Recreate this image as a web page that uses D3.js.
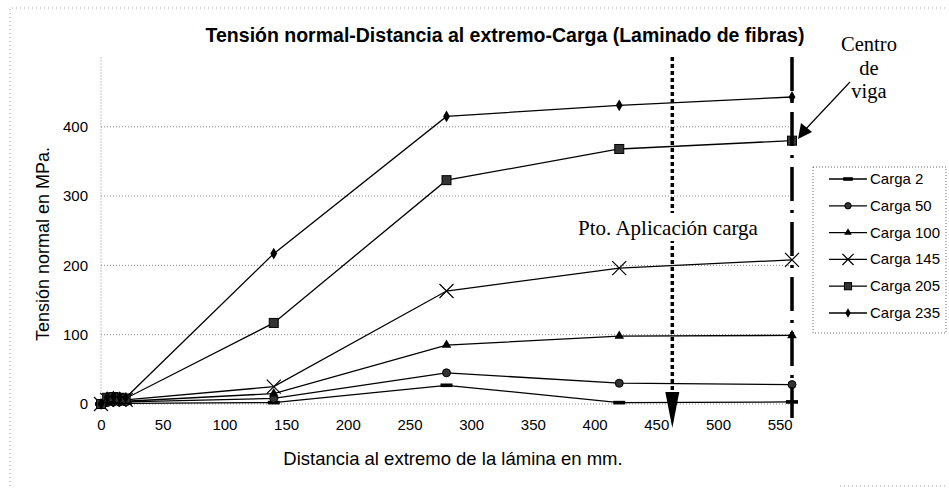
<!DOCTYPE html>
<html>
<head>
<meta charset="utf-8">
<script src="https://cdn.jsdelivr.net/npm/d3@7"></script>
<style>
  body { margin: 0; background: #fff; }
  svg { display: block; }
  text { fill: #000; }
</style>
</head>
<body>
<div id="chart"></div>
<script>
/* DATA */
const distances = [0, 5, 10, 15, 20, 140, 280, 420, 560];
const carga2   = [0, 1, 1, 1, 1, 2, 27, 2, 3];
const carga50  = [0, 2, 3, 3, 3, 8, 45, 30, 28];
const carga100 = [0, 3, 4, 4, 4, 15, 85, 98, 99];
const carga145 = [0, 6, 7, 6, 6, 25, 163, 196, 208];
const carga205 = [0, 9, 10, 9, 8, 117, 323, 368, 380];
const carga235 = [0, 10, 11, 10, 9, 217, 415, 431, 443];
const seriesNames = ["Carga 2", "Carga 50", "Carga 100", "Carga 145", "Carga 205", "Carga 235"];
const seriesMarkers = ["dash", "circle", "triangle", "cross", "square", "diamond"];
const xTicks = [0, 50, 100, 150, 200, 250, 300, 350, 400, 450, 500, 550];
const yTicks = [0, 100, 200, 300, 400];
const loadPoint = 463;   // Pto. Aplicación carga
const beamCenter = 560;  // Centro de viga

const width = 949, height = 490;
const sans = "'Liberation Sans', Arial, sans-serif";
const serif = "'Liberation Serif', 'Times New Roman', serif";

const series = [carga2, carga50, carga100, carga145, carga205, carga235].map((vals, i) => ({
  name: seriesNames[i],
  marker: seriesMarkers[i],
  points: vals.map((v, j) => ({ x: distances[j], y: v }))
}));

const svg = d3.select("#chart").append("svg")
  .attr("width", width)
  .attr("height", height)
  .style("font-family", sans);

// outer frame (faint, dotted)
svg.append("path")
  .attr("d", "M10,486 L10,8 L946,8")
  .attr("fill", "none")
  .attr("stroke", "#aaa")
  .attr("stroke-dasharray", "1,3");
svg.append("line")
  .attr("x1", 840).attr("x2", 946).attr("y1", 486).attr("y2", 486)
  .attr("stroke", "#aaa").attr("stroke-dasharray", "1,3");

// scales
const xScale = d3.scaleLinear().domain([0, 560]).range([101, 792]);
const yScale = d3.scaleLinear().domain([0, 500]).range([404, 57.5]);

// gridlines
svg.append("g")
  .selectAll("line")
  .data(yTicks)
  .join("line")
  .attr("x1", xScale(0)).attr("x2", xScale(560))
  .attr("y1", d => yScale(d)).attr("y2", d => yScale(d))
  .attr("stroke", "#888")
  .attr("stroke-width", 1)
  .attr("stroke-dasharray", "1,2");

// left plot border
svg.append("line")
  .attr("x1", xScale(0)).attr("x2", xScale(0))
  .attr("y1", yScale(500)).attr("y2", yScale(0))
  .attr("stroke", "#888")
  .attr("stroke-dasharray", "1,2");

// axes (labels only, Excel-style)
const yAxis = d3.axisLeft(yScale).tickValues(yTicks).tickSize(0).tickPadding(13);
const yAxisGroup = svg.append("g")
  .attr("transform", `translate(${xScale(0)},0)`)
  .call(yAxis);
yAxisGroup.select(".domain").remove();
yAxisGroup.selectAll("text").attr("font-size", 15).attr("font-family", sans);

const xAxis = d3.axisBottom(xScale).tickValues(xTicks).tickSize(0).tickPadding(15);
const xAxisGroup = svg.append("g")
  .attr("transform", `translate(0,${yScale(0)})`)
  .call(xAxis);
xAxisGroup.select(".domain").remove();
xAxisGroup.selectAll("text").attr("font-size", 15).attr("font-family", sans);

// titles
svg.append("text")
  .attr("x", 505).attr("y", 42)
  .attr("text-anchor", "middle")
  .attr("font-size", 19.5)
  .attr("font-weight", "bold")
  .text("Tensión normal-Distancia al extremo-Carga (Laminado de fibras)");

svg.append("text")
  .attr("transform", "translate(49,244) rotate(-90)")
  .attr("text-anchor", "middle")
  .attr("font-size", 18)
  .text("Tensión normal en MPa.");

svg.append("text")
  .attr("x", 453).attr("y", 465)
  .attr("text-anchor", "middle")
  .attr("font-size", 18.5)
  .text("Distancia al extremo de la lámina en mm.");

// marker drawing
function drawMarker(sel, type, size) {
  const s = size || 1;
  if (type === "dash") {
    sel.append("rect").attr("x", -6 * s).attr("y", -1.8).attr("width", 12 * s).attr("height", 3.6).attr("fill", "#000");
  } else if (type === "circle") {
    sel.append("circle").attr("r", 4 * s).attr("fill", "#333").attr("stroke", "#000");
  } else if (type === "triangle") {
    sel.append("path").attr("d", d3.symbol(d3.symbolTriangle, 40 * s * s)).attr("fill", "#000");
  } else if (type === "cross") {
    const r = 7 * s;
    sel.append("path").attr("d", `M${-r},${-r}L${r},${r}M${-r},${r}L${r},${-r}`)
      .attr("stroke", "#000").attr("stroke-width", 1.2).attr("fill", "none");
  } else if (type === "square") {
    sel.append("rect").attr("x", -4.5 * s).attr("y", -4.5 * s).attr("width", 9 * s).attr("height", 9 * s)
      .attr("fill", "#333").attr("stroke", "#000");
  } else if (type === "diamond") {
    sel.append("path").attr("d", d3.symbol(d3.symbolDiamond, 40 * s * s)).attr("fill", "#000");
  }
}

// series lines + markers
const line = d3.line().x(d => xScale(d.x)).y(d => yScale(d.y));
const seriesGroup = svg.append("g")
  .selectAll("g")
  .data(series)
  .join("g");

seriesGroup.append("path")
  .attr("d", d => line(d.points))
  .attr("fill", "none")
  .attr("stroke", "#000")
  .attr("stroke-width", 1.3);

seriesGroup.each(function(d) {
  d3.select(this).selectAll("g.pt")
    .data(d.points)
    .join("g")
    .attr("class", "pt")
    .attr("transform", p => `translate(${xScale(p.x)},${yScale(p.y)})`)
    .each(function() { drawMarker(d3.select(this), d.marker); });
});

// Pto. Aplicación carga: thick dashed line with arrow head
const lx = xScale(loadPoint);
svg.append("line")
  .attr("x1", lx).attr("x2", lx)
  .attr("y1", 57).attr("y2", 400)
  .attr("stroke", "#000")
  .attr("stroke-width", 3.5)
  .attr("stroke-dasharray", "4,3");
svg.append("path")
  .attr("d", `M${lx - 7},392 L${lx + 7},392 L${lx},428 Z`)
  .attr("fill", "#000");

svg.append("rect")
  .attr("x", 574).attr("y", 213).attr("width", 190).attr("height", 28)
  .attr("fill", "#fff");
svg.append("text")
  .attr("x", 668).attr("y", 235)
  .attr("text-anchor", "middle")
  .attr("font-family", serif)
  .attr("font-size", 21)
  .text("Pto. Aplicación carga");

// Centro de viga: thick dash-dot line + arrow
const cx = xScale(beamCenter);
svg.append("line")
  .attr("x1", cx).attr("x2", cx)
  .attr("y1", 57).attr("y2", 418)
  .attr("stroke", "#000")
  .attr("stroke-width", 3.5)
  .attr("stroke-dasharray", "34,9,3,9");

svg.append("line")
  .attr("x1", 850).attr("x2", 803)
  .attr("y1", 82).attr("y2", 132)
  .attr("stroke", "#000").attr("stroke-width", 1.2);
svg.append("path")
  .attr("d", "M798,139 L801,123 L812,132 Z")
  .attr("fill", "#000");

const centro = svg.append("g")
  .attr("font-family", serif)
  .attr("font-size", 20.5)
  .attr("text-anchor", "middle");
["Centro", "de", "viga"].forEach((t, i) => {
  centro.append("text").attr("x", 869).attr("y", 51 + i * 23.5).text(t);
});

// legend
const legend = svg.append("g");
legend.append("rect")
  .attr("x", 813).attr("y", 167).attr("width", 133).attr("height", 166)
  .attr("fill", "#fff")
  .attr("stroke", "#666")
  .attr("stroke-dasharray", "1,2");

const legendItems = legend.selectAll("g.item")
  .data(series)
  .join("g")
  .attr("class", "item")
  .attr("transform", (d, i) => `translate(829,${179 + i * 26.8})`);

legendItems.append("line")
  .attr("x1", 0).attr("x2", 38)
  .attr("stroke", "#000").attr("stroke-width", 1.3);
legendItems.append("g")
  .attr("transform", "translate(19,0)")
  .each(function(d) { drawMarker(d3.select(this), d.marker, 0.8); });
legendItems.append("text")
  .attr("x", 41).attr("y", 5)
  .attr("font-size", 15)
  .text(d => d.name);
</script>
</body>
</html>
